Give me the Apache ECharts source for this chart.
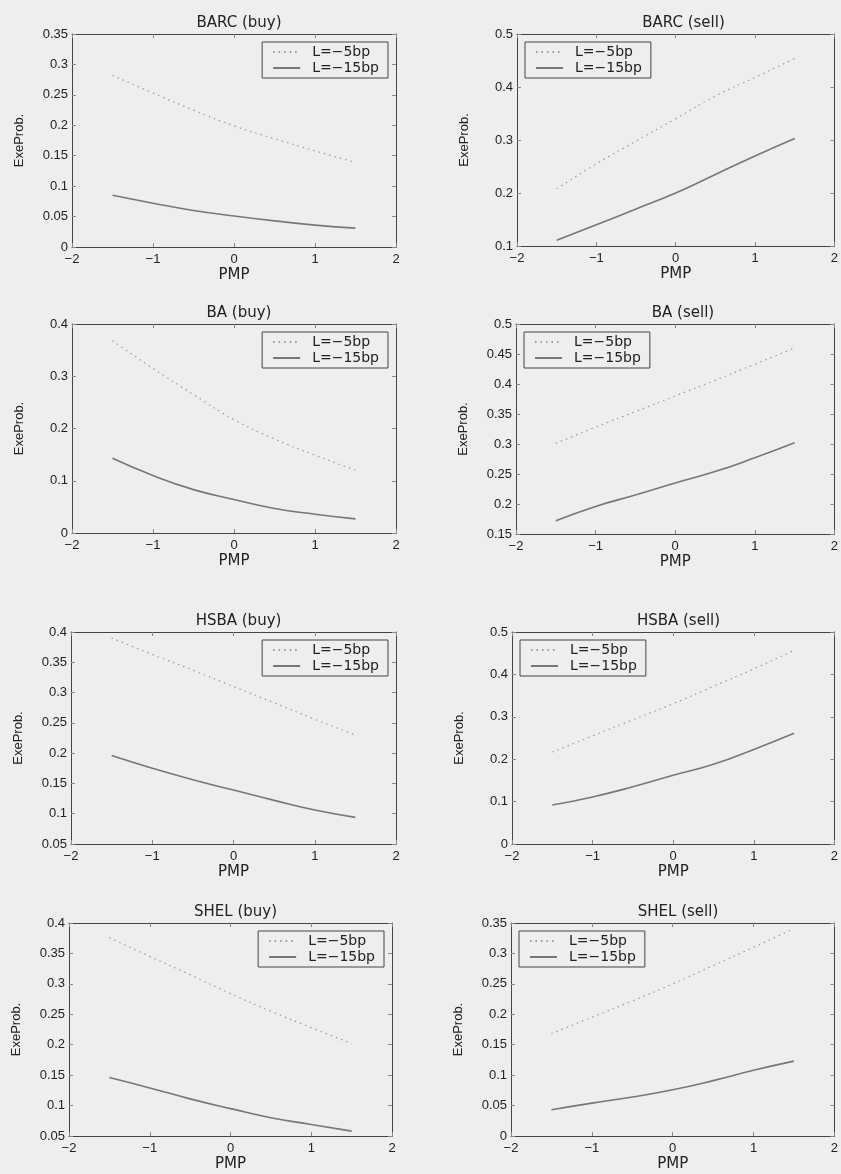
<!DOCTYPE html>
<html>
<head>
<meta charset="utf-8">
<script src="https://cdn.jsdelivr.net/npm/echarts@6/dist/echarts.min.js"></script>
<style>
  html, body { margin: 0; padding: 0; background: #eeeeee; }
  #container { width: 841px; height: 1174px; }
</style>
</head>
<body>
<div id="container"></div>
<script>
// PMP grid
var pmp = [-1.5, -1, -0.5, 0, 0.5, 1, 1.5];

var titles = ['BARC (buy)', 'BARC (sell)', 'BA (buy)', 'BA (sell)',
              'HSBA (buy)', 'HSBA (sell)', 'SHEL (buy)', 'SHEL (sell)'];

// y axis ranges per panel
var yMin  = [0,    0.1, 0,   0.15, 0.05, 0,   0.05, 0];
var yMax  = [0.35, 0.5, 0.4, 0.5,  0.4,  0.5, 0.4,  0.35];
var yStep = [0.05, 0.1, 0.1, 0.05, 0.05, 0.1, 0.05, 0.05];

// L=-5bp (dotted)
var barcBuy5  = [0.282, 0.253, 0.225, 0.199, 0.178, 0.158, 0.139];
var barcSell5 = [0.208, 0.255, 0.298, 0.340, 0.383, 0.418, 0.454];
var baBuy5    = [0.368, 0.315, 0.265, 0.217, 0.180, 0.149, 0.120];
var baSell5   = [0.301, 0.328, 0.354, 0.380, 0.406, 0.433, 0.460];
var hsbaBuy5  = [0.390, 0.363, 0.337, 0.310, 0.283, 0.256, 0.230];
var hsbaSell5 = [0.217, 0.255, 0.293, 0.331, 0.372, 0.413, 0.457];
var shelBuy5  = [0.376, 0.345, 0.315, 0.284, 0.255, 0.228, 0.202];
var shelSell5 = [0.168, 0.195, 0.222, 0.250, 0.280, 0.310, 0.341];

// L=-15bp (solid)
var barcBuy15  = [0.085, 0.072, 0.060, 0.051, 0.043, 0.036, 0.031];
var barcSell15 = [0.111, 0.140, 0.170, 0.200, 0.235, 0.270, 0.303];
var baBuy15    = [0.143, 0.110, 0.083, 0.064, 0.047, 0.036, 0.027];
var baSell15   = [0.172, 0.196, 0.215, 0.235, 0.254, 0.277, 0.302];
var hsbaBuy15  = [0.196, 0.175, 0.156, 0.139, 0.122, 0.106, 0.094];
var hsbaSell15 = [0.092, 0.111, 0.135, 0.162, 0.188, 0.223, 0.261];
var shelBuy15  = [0.146, 0.129, 0.111, 0.095, 0.080, 0.069, 0.058];
var shelSell15 = [0.043, 0.054, 0.064, 0.076, 0.091, 0.108, 0.123];

var dotted = [barcBuy5, barcSell5, baBuy5, baSell5, hsbaBuy5, hsbaSell5, shelBuy5, shelSell5];
var solid  = [barcBuy15, barcSell15, baBuy15, baSell15, hsbaBuy15, hsbaSell15, shelBuy15, shelSell15];

var NAME5 = 'L=\u22125bp', NAME15 = 'L=\u221215bp';

// plot boxes [left, top, width, height]
var boxes = [
    [72, 34, 324, 213], [517, 34, 323, 212],
    [72, 324, 324, 209], [516, 324, 324, 210],
    [71, 632, 325, 212], [512, 632, 323, 212],
    [69, 923, 323, 213], [511, 923, 324, 213]
];

var tickFont = 'Liberation Sans, Arial, sans-serif';
var textFont = 'DejaVu Sans, sans-serif';
var ink = '#222';

function minus(v) { return String(v).replace('-', '\u2212'); }

var grid = [], xAxis = [], yAxis = [], series = [], title = [], legend = [];

boxes.forEach(function (b, i) {
    grid.push({ left: b[0], top: b[1], width: b[2], height: b[3] });

    title.push({
        text: titles[i], left: b[0] + b[2] / 2, top: b[1] - 23, textAlign: 'center',
        textStyle: { fontFamily: textFont, fontSize: 15, fontWeight: 'normal', color: ink }
    });

    var lineStyle = { color: '#444', width: 1 };
    var tick = { inside: true, length: 4, lineStyle: { color: '#888' } };

    xAxis.push({
        type: 'value', gridIndex: i, min: -2, max: 2, interval: 1,
        name: 'PMP', nameLocation: 'middle', nameGap: 21,
        nameTextStyle: { fontFamily: textFont, fontSize: 15, color: ink },
        axisLine: { show: true, onZero: false, lineStyle: lineStyle },
        axisTick: tick, splitLine: { show: false },
        axisLabel: { fontFamily: tickFont, fontSize: 13, color: ink, margin: 6, formatter: minus }
    });
    xAxis.push({
        type: 'value', gridIndex: i, min: -2, max: 2, interval: 1, position: 'top',
        axisLine: { show: true, onZero: false, lineStyle: lineStyle },
        axisTick: tick, splitLine: { show: false }, axisLabel: { show: false }
    });
    yAxis.push({
        type: 'value', gridIndex: i, min: yMin[i], max: yMax[i], interval: yStep[i],
        name: 'ExeProb.', nameLocation: 'middle', nameGap: 46,
        nameTextStyle: { fontFamily: tickFont, fontSize: 13, color: ink },
        axisLine: { show: true, onZero: false, lineStyle: lineStyle },
        axisTick: tick, splitLine: { show: false },
        axisLabel: { fontFamily: tickFont, fontSize: 13, color: ink, margin: 4 }
    });
    yAxis.push({
        type: 'value', gridIndex: i, min: yMin[i], max: yMax[i], interval: yStep[i], position: 'right',
        axisLine: { show: true, onZero: false, lineStyle: lineStyle },
        axisTick: tick, splitLine: { show: false }, axisLabel: { show: false }
    });

    series.push({
        name: NAME5, type: 'line', xAxisIndex: 2 * i, yAxisIndex: 2 * i,
        data: pmp.map(function (x, k) { return [x, dotted[i][k]]; }),
        smooth: 0.5, symbol: 'none', silent: true,
        itemStyle: { color: '#9a9a9a' },
        lineStyle: { color: '#9a9a9a', width: 1.2, type: [1.5, 4] }
    });
    series.push({
        name: NAME15, type: 'line', xAxisIndex: 2 * i, yAxisIndex: 2 * i,
        data: pmp.map(function (x, k) { return [x, solid[i][k]]; }),
        smooth: 0.5, symbol: 'none', silent: true,
        itemStyle: { color: '#777777' },
        lineStyle: { color: '#777777', width: 1.6 }
    });

    // buy panels: legend top-right, sell panels: legend top-left
    var lg = {
        data: [NAME5, NAME15], orient: 'vertical', top: b[1] + 8,
        itemWidth: 27, itemHeight: 8, itemGap: 2, padding: [3, 9, 3, 10],
        borderColor: '#444', borderWidth: 1, borderRadius: 0, backgroundColor: '#eeeeee',
        selectedMode: false,
        itemStyle: { opacity: 0 },
        textStyle: { fontFamily: textFont, fontSize: 14, color: ink, padding: [0, 0, 0, 7] }
    };
    if (i % 2 === 0) lg.right = 841 - (b[0] + b[2] - 8);
    else lg.left = b[0] + 8;
    legend.push(lg);
});

var myChart = echarts.init(document.getElementById('container'));
myChart.setOption({
    backgroundColor: '#eeeeee',
    animation: false,
    title: title,
    legend: legend,
    grid: grid,
    xAxis: xAxis,
    yAxis: yAxis,
    series: series
});
</script>
</body>
</html>
